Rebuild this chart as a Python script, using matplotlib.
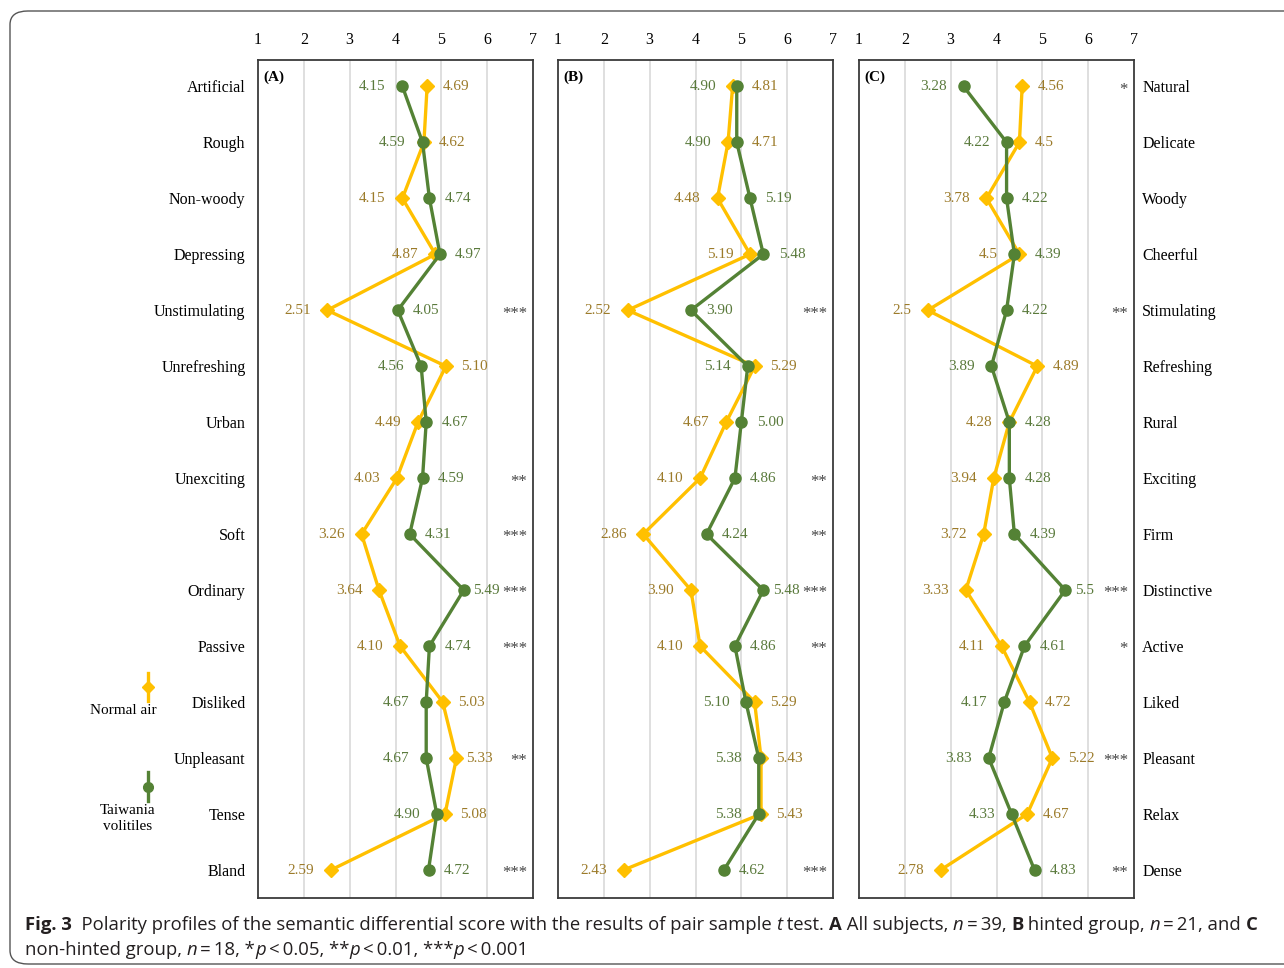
import matplotlib
matplotlib.use("Agg")
import matplotlib.pyplot as plt
from matplotlib.patches import FancyBboxPatch
from matplotlib.lines import Line2D
from matplotlib import font_manager

# ---------------- data ----------------
left_terms = ["Artificial", "Rough", "Non-woody", "Depressing", "Unstimulating",
              "Unrefreshing", "Urban", "Unexciting", "Soft", "Ordinary", "Passive",
              "Disliked", "Unpleasant", "Tense", "Bland"]
right_terms = ["Natural", "Delicate", "Woody", "Cheerful", "Stimulating",
               "Refreshing", "Rural", "Exciting", "Firm", "Distinctive", "Active",
               "Liked", "Pleasant", "Relax", "Dense"]

# which series carries the label on the left side of each row
label_left = ["g", "g", "y", "y", "y", "g", "y", "y", "y", "y", "y", "g", "g", "g", "y"]

normal_A = [4.69, 4.62, 4.15, 4.87, 2.51, 5.10, 4.49, 4.03, 3.26, 3.64, 4.10, 5.03, 5.33, 5.08, 2.59]
taiwania_A = [4.15, 4.59, 4.74, 4.97, 4.05, 4.56, 4.67, 4.59, 4.31, 5.49, 4.74, 4.67, 4.67, 4.90, 4.72]
sig_A = ["", "", "", "", "***", "", "", "**", "***", "***", "***", "", "**", "", "***"]

normal_B = [4.81, 4.71, 4.48, 5.19, 2.52, 5.29, 4.67, 4.10, 2.86, 3.90, 4.10, 5.29, 5.43, 5.43, 2.43]
taiwania_B = [4.90, 4.90, 5.19, 5.48, 3.90, 5.14, 5.00, 4.86, 4.24, 5.48, 4.86, 5.10, 5.38, 5.38, 4.62]
sig_B = ["", "", "", "", "***", "", "", "**", "**", "***", "**", "", "", "", "***"]

normal_C = [4.56, 4.5, 3.78, 4.5, 2.5, 4.89, 4.28, 3.94, 3.72, 3.33, 4.11, 4.72, 5.22, 4.67, 2.78]
taiwania_C = [3.28, 4.22, 4.22, 4.39, 4.22, 3.89, 4.28, 4.28, 4.39, 5.5, 4.61, 4.17, 3.83, 4.33, 4.83]
sig_C = ["*", "", "", "", "**", "", "", "", "", "***", "*", "", "***", "", "**"]

scale_ticks = [1, 2, 3, 4, 5, 6, 7]

# ---------------- style ----------------
YELLOW = "#FFC000"
GREEN = "#548235"
YELLOW_TXT = "#9C7B2A"
GREEN_TXT = "#5A7A3C"
SERIF = "Liberation Serif"


def pick_sans():
    # first sans family that ships a real bold face
    for fam in ["Open Sans", "Noto Sans", "Lato", "Roboto", "Liberation Sans", "DejaVu Sans"]:
        try:
            path = font_manager.findfont(font_manager.FontProperties(family=fam, weight="bold"),
                                         fallback_to_default=False)
        except Exception:
            continue
        if "bold" in path.lower():
            return fam
    return "DejaVu Sans"


SANS_FAMILY = pick_sans()
SANS = [SANS_FAMILY, "DejaVu Sans"]

W, H = 1284, 968
fig = plt.figure(figsize=(W / 100, H / 100), dpi=100)


def px_axes(x0, x1, y0, y1):
    return fig.add_axes([x0 / W, 1 - y1 / H, (x1 - x0) / W, (y1 - y0) / H])


# rounded outer border
border = FancyBboxPatch((10 / W, 1 - 964 / H), 1300 / W, 953 / H,
                        boxstyle="round,pad=0,rounding_size=0.014",
                        transform=fig.transFigure, facecolor="none",
                        edgecolor="#555555", linewidth=1.0, clip_on=False)
fig.patches.append(border)


def panel(x0, x1, tag, normal, taiwania, sig, fmt, side):
    ax = px_axes(x0, x1, 60, 898)
    rows = list(range(len(normal)))
    ax.set_xlim(1, 7)
    ax.set_ylim(14.5, -0.47)
    for v in scale_ticks[1:-1]:
        ax.axvline(v, color="#d9d9d9", lw=1.2, zorder=0)
    ax.plot(normal, rows, color=YELLOW, lw=2.4, marker="D", ms=7, zorder=3)
    ax.plot(taiwania, rows, color=GREEN, lw=2.4, marker="o", ms=8, zorder=4)

    for i in rows:
        yv, gv = normal[i], taiwania[i]
        if label_left[i] == "g":
            lt, lc, rt, rc = gv, GREEN_TXT, yv, YELLOW_TXT
        else:
            lt, lc, rt, rc = yv, YELLOW_TXT, gv, GREEN_TXT
        # keep the right-hand label clear of the significance stars
        r_off = 7 if (sig[i] and max(yv, gv) > 5.3) else 11
        ax.annotate(format(lt, fmt), (min(yv, gv), i), xytext=(-12, 0),
                    textcoords="offset points", ha="right", va="center",
                    color=lc, fontsize=11, family=SERIF)
        ax.annotate(format(rt, fmt), (max(yv, gv), i), xytext=(r_off, 0),
                    textcoords="offset points", ha="left", va="center",
                    color=rc, fontsize=11, family=SERIF)
        if sig[i]:
            ax.text(6.87, i + 0.06, sig[i], ha="right", va="center",
                    color="#444444", fontsize=12, family=SERIF)

    ax.text(0.02, 0.987, tag, transform=ax.transAxes, ha="left", va="top",
            fontsize=11, fontweight="bold", family=SERIF)

    ax.xaxis.tick_top()
    ax.set_xticks(scale_ticks)
    ax.set_xticklabels([str(t) for t in scale_ticks], family=SERIF, fontsize=11.5)
    ax.tick_params(axis="x", length=0, pad=9)

    ax.set_yticks(rows)
    if side == "left":
        ax.set_yticklabels(left_terms, family=SERIF, fontsize=11.5)
        ax.tick_params(axis="y", length=0, pad=9)
    elif side == "right":
        ax.yaxis.tick_right()
        ax.set_yticklabels(right_terms, family=SERIF, fontsize=11.5)
        ax.tick_params(axis="y", length=0, pad=6)
    else:
        ax.set_yticklabels([])
        ax.tick_params(axis="y", length=0)

    for s in ax.spines.values():
        s.set_color("#3a3a3a")
        s.set_linewidth(1.3)
    return ax


panel(258, 533, "(A)", normal_A, taiwania_A, sig_A, ".2f", "left")
panel(558, 833, "(B)", normal_B, taiwania_B, sig_B, ".2f", "none")
panel(859, 1134, "(C)", normal_C, taiwania_C, sig_C, "g", "right")

# ---------------- legend ----------------
def key(y_top, y_bot, color, marker, ms):
    fig.lines.append(Line2D([148 / W, 148 / W], [1 - y_top / H, 1 - y_bot / H],
                            transform=fig.transFigure, color=color, lw=2.4))
    ym = (y_top + y_bot) / 2
    fig.lines.append(Line2D([148 / W], [1 - ym / H], transform=fig.transFigure,
                            color=color, marker=marker, ms=ms, lw=0))


key(673, 701, YELLOW, "D", 6)
fig.text(123 / W, 1 - 710 / H, "Normal air", ha="center", va="center",
         fontsize=11, family=SERIF)
key(772, 801, GREEN, "o", 7)
fig.text(128 / W, 1 - 818 / H, "Taiwania\nvolitiles", ha="center", va="center",
         fontsize=11, family=SERIF, linespacing=1.3)

# ---------------- caption ----------------
renderer = fig.canvas.get_renderer()

N, B, I = ("normal", "normal"), ("bold", "normal"), ("normal", "italic")
line1 = [("Fig. 3", *B), ("  Polarity profiles of the semantic differential score with the results of pair sample ", *N),
         ("t", *I), (" test. ", *N), ("A", *B), (" All subjects, ", *N), ("n", *I),
         ("\u2009=\u200939, ", *N), ("B", *B), (" hinted group, ", *N), ("n", *I),
         ("\u2009=\u200921, and ", *N), ("C", *B)]
line2 = [("non-hinted group, ", *N), ("n", *I), ("\u2009=\u200918, *", *N), ("p", *I),
         ("\u2009<\u20090.05, **", *N), ("p", *I), ("\u2009<\u20090.01, ***", *N), ("p", *I),
         ("\u2009<\u20090.001", *N)]


def runs(x_px, y_px, parts, size):
    x = x_px
    for s, weight, style in parts:
        t = fig.text(x / W, 1 - y_px / H, s, fontsize=size, fontweight=weight,
                     fontstyle=style, family=SANS, va="baseline", ha="left",
                     color="#231f20")
        x += t.get_window_extent(renderer).width
    return x


def run_width(parts, size):
    total = 0.0
    for s, weight, style in parts:
        t = fig.text(0, 0, s, fontsize=size, fontweight=weight, fontstyle=style,
                     family=SANS)
        total += t.get_window_extent(renderer).width
        t.remove()
    return total


# size the caption so that its first line spans the figure text width
cap_size = 12.0 * (1225.0 / run_width(line1, 12.0))
runs(25, 930, line1, cap_size)
runs(25, 955, line2, cap_size)

fig.savefig("out.png", dpi=100)
